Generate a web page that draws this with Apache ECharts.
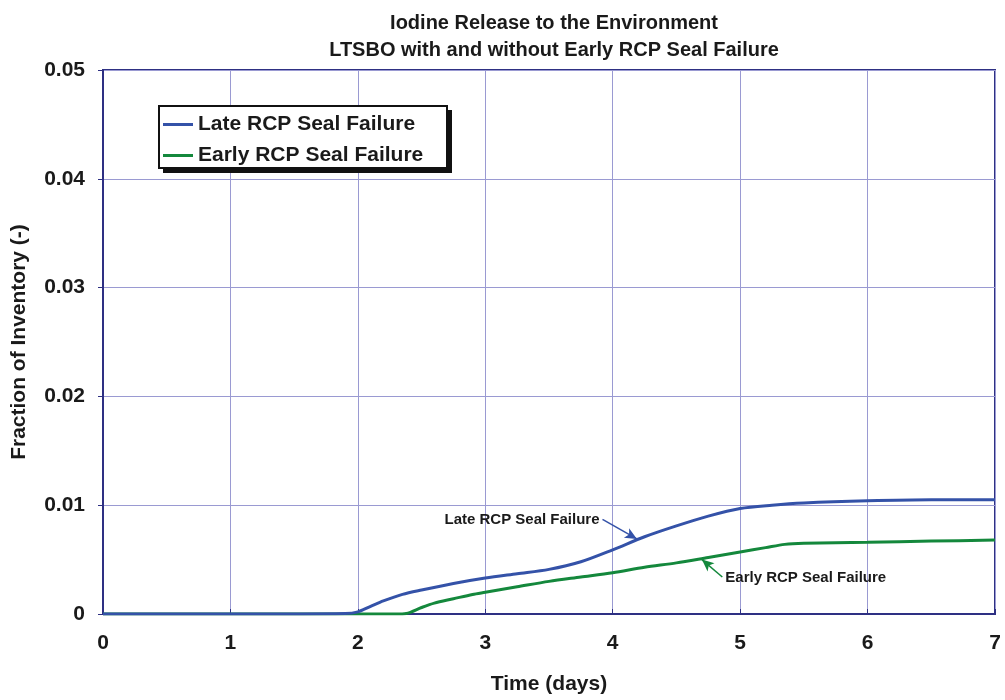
<!DOCTYPE html>
<html>
<head>
<meta charset="utf-8">
<script src="https://cdn.jsdelivr.net/npm/echarts@6/dist/echarts.min.js"></script>
<style>
html, body { margin: 0; padding: 0; background: #fff; }
#main { width: 1005px; height: 700px; }
</style>
</head>
<body>
<div id="main"></div>
<script>
var chartDom = document.getElementById('main');
var myChart = echarts.init(chartDom, null, { renderer: 'canvas' });

// time in days, fraction of inventory
const lateDays = [0, 1, 1.9, 2.0, 2.1, 2.2, 2.35, 2.5, 2.75, 3, 3.25, 3.5, 3.75, 4, 4.25, 4.5, 4.75, 5, 5.25, 5.5, 6, 6.5, 7];
const lateFrac = [0, 0, 0.00005, 0.0002, 0.0007, 0.0012, 0.0018, 0.0022, 0.0028, 0.0033, 0.0037, 0.0041, 0.0048, 0.0059, 0.0071, 0.0081, 0.0090, 0.0097, 0.0100, 0.0102, 0.0104, 0.0105, 0.0105];
const earlyDays = [0, 1, 2, 2.3, 2.38, 2.5, 2.6, 2.75, 2.9, 3, 3.25, 3.5, 3.75, 4, 4.25, 4.5, 4.75, 5, 5.2, 5.35, 5.5, 6, 6.5, 7];
const earlyFrac = [0, 0, 0, 0, 0.00005, 0.0006, 0.0010, 0.0014, 0.0018, 0.0020, 0.0025, 0.0030, 0.0034, 0.0038, 0.0043, 0.0047, 0.0052, 0.0057, 0.0061, 0.0064, 0.0065, 0.0066, 0.0067, 0.0068];
const seriesNames = ['Late RCP Seal Failure', 'Early RCP Seal Failure'];
const colors = ['#3452a8', '#14883c'];
// annotation arrows: [from, to] in data units
const lateArrow = [[3.92, 0.0087], [4.19, 0.0069]];
const earlyArrow = [[4.86, 0.0034], [4.70, 0.0050]];

const font = 'Liberation Sans, Arial, sans-serif';
const ink = '#1a1a1a';
const zip = (xs, ys) => xs.map((x, i) => [x, ys[i]]);

function arrow(pts, color) {
    return {
        silent: true,
        symbol: ['none', 'arrow'],
        symbolSize: [8, 12],
        label: { show: false },
        lineStyle: { color: color, width: 1.5, type: 'solid' },
        data: [[{ coord: pts[0] }, { coord: pts[1] }]]
    };
}

var option = {
    animation: false,
    backgroundColor: '#fff',
    title: {
        text: 'Iodine Release to the Environment\nLTSBO with and without Early RCP Seal Failure',
        left: 549,
        top: 5,
        textAlign: 'center',
        textStyle: { fontFamily: font, fontSize: 20, fontWeight: 'bold', color: ink, lineHeight: 27 }
    },
    legend: {
        orient: 'vertical',
        left: 158,
        top: 105,
        z: 10,
        padding: [9, 8, 8, 5],
        itemGap: 10,
        itemWidth: 30,
        itemHeight: 3,
        icon: 'rect',
        textStyle: { fontFamily: font, fontSize: 21, fontWeight: 'bold', color: ink },
        data: seriesNames
    },
    grid: {
        left: 103, right: 10, top: 70, bottom: 86,
        outerBoundsMode: 'none',
        show: true, borderColor: '#2e3083', borderWidth: 2
    },
    xAxis: {
        type: 'value',
        min: 0, max: 7, interval: 1,
        name: 'Time (days)',
        nameLocation: 'middle',
        nameGap: 60,
        nameTextStyle: { fontFamily: font, fontSize: 21, fontWeight: 'bold', color: ink },
        axisLine: { lineStyle: { color: '#2e3083', width: 2 } },
        axisTick: { inside: true, length: 5, lineStyle: { color: '#2e3083' } },
        axisLabel: { margin: 19, fontFamily: font, fontSize: 21, fontWeight: 'bold', color: ink },
        splitLine: { lineStyle: { color: '#9a9ad2', width: 1 } }
    },
    yAxis: {
        type: 'value',
        min: 0, max: 0.05, interval: 0.01,
        name: 'Fraction of Inventory (-)',
        nameLocation: 'middle',
        nameGap: 73,
        nameTextStyle: { fontFamily: font, fontSize: 21, fontWeight: 'bold', color: ink },
        axisLine: { lineStyle: { color: '#2e3083', width: 2 } },
        axisTick: { show: true, length: 5, lineStyle: { color: '#2e3083' } },
        axisLabel: {
            margin: 18, fontFamily: font, fontSize: 21, fontWeight: 'bold', color: ink,
            formatter: v => (v === 0 ? '0' : v.toFixed(2))
        },
        splitLine: { lineStyle: { color: '#9a9ad2', width: 1 } }
    },
    series: [
        {
            name: seriesNames[0],
            type: 'line',
            data: zip(lateDays, lateFrac),
            smooth: 0.3,
            showSymbol: false,
            color: colors[0],
            lineStyle: { width: 3 },
            z: 3,
            markLine: arrow(lateArrow, colors[0])
        },
        {
            name: seriesNames[1],
            type: 'line',
            data: zip(earlyDays, earlyFrac),
            smooth: 0.3,
            showSymbol: false,
            color: colors[1],
            lineStyle: { width: 3 },
            z: 2,
            markLine: arrow(earlyArrow, colors[1])
        }
    ]
};
myChart.setOption(option);

// legend box with drop shadow, and annotation texts placed through the axis scales
const lateAt = myChart.convertToPixel({ gridIndex: 0 }, lateArrow[0]);
const earlyAt = myChart.convertToPixel({ gridIndex: 0 }, earlyArrow[0]);
myChart.setOption({
    graphic: [
        { id: 'legendShadow', type: 'rect', z: 1, shape: { x: 163, y: 110, width: 289, height: 63 }, style: { fill: '#111' } },
        { id: 'legendBox', type: 'rect', z: 2, shape: { x: 159, y: 106, width: 288, height: 62 }, style: { fill: '#fff', stroke: '#111', lineWidth: 2 } },
        {
            id: 'lateNote', type: 'text', z: 5, x: lateAt[0] - 3, y: lateAt[1] + 1,
            style: { text: seriesNames[0], font: 'bold 15px ' + font, fill: ink, align: 'right', verticalAlign: 'middle' }
        },
        {
            id: 'earlyNote', type: 'text', z: 5, x: earlyAt[0] + 3, y: earlyAt[1] + 1,
            style: { text: seriesNames[1], font: 'bold 15px ' + font, fill: ink, align: 'left', verticalAlign: 'middle' }
        }
    ]
});
</script>
</body>
</html>
